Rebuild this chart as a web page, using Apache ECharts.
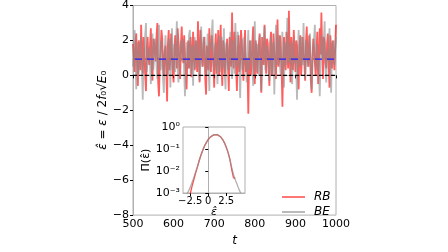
<!DOCTYPE html>
<html>
<head>
<meta charset="utf-8">
<script src="https://cdn.jsdelivr.net/npm/echarts@6/dist/echarts.min.js"></script>
<style>
  html, body { margin: 0; padding: 0; background: #fff; }
  #main { width: 448px; height: 252px; }
</style>
</head>
<body>
<div id="main"></div>
<script>
// time axis: t = 500 .. 1000, one sample every 2
const tStart = 500;
const tStep = 2;

// eps-hat time series
const rbVals = [
  1.8, 1.1, 0.2, 1.9, 2.4, 0.6, -0.6, 2.0, 1.5, 0.3, 2.9, 1.3, 0.1, 2.2, 1.2, 0.0, -0.9, 1.6, 2.2, 1.0,
  0.6, 1.8, 2.7, 0.4, -0.3, 2.1, 1.9, 1.2, 0.8, 2.3, 3.0, -0.4, -1.2, 0.8, 1.4, 2.6, 2.1, 0.5, 0.0, 1.4,
  1.7, 0.2, -1.5, 1.8, 2.6, 0.3, 0.9, 2.4, 1.3, 0.1, -0.4, 1.5, 2.3, 1.2, 0.4, 2.7, 1.9, 0.6, -0.2, 1.7,
  2.8, 1.3, 0.7, 2.3, 1.1, 0.2, -0.8, 1.1, 2.0, 0.4, 1.6, 2.2, -0.1, 1.0, 2.5, 0.9, 0.3, 2.0, 1.4, 0.2,
  3.1, 1.4, -0.4, 2.6, 1.8, 0.9, 0.5, 1.8, 2.2, -0.2, -1.1, 1.7, 1.0, 0.3, 2.7, 1.2, 0.2, 2.3, 1.5, 0.6,
  -0.7, 1.5, 2.4, 0.1, 1.2, 2.6, 0.0, 1.1, 2.9, 0.5, -0.6, 2.0, 1.7, 0.1, 0.8, 1.5, 2.1, 0.6, -0.9, 2.2,
  1.3, 0.5, 3.6, 1.2, 0.4, 2.5, 1.6, 0.3, -0.9, 1.4, 2.3, 0.2, 0.7, 2.6, 1.9, 0.7, -0.3, 1.5, 2.6, 0.2,
  1.0, 0.6, -2.2, 1.2, 2.0, 0.0, 0.5, 1.9, 2.8, 0.4, -0.5, 2.0, 1.6, 0.1, 0.9, 1.8, 2.4, 0.3, -1.0, 2.2,
  1.2, 0.6, 2.9, 1.3, 0.1, 2.1, 1.8, 0.4, -0.6, 1.9, 2.5, 0.0, 0.6, 2.4, 1.4, 0.8, -0.2, 1.7, 3.2, 0.5,
  0.8, 2.3, 1.5, 0.4, -1.8, 1.0, 2.2, 0.6, 0.3, 2.5, 1.9, 0.4, 3.7, 1.2, -0.4, 2.2, 1.1, 0.3, 2.6, 1.4,
  0.2, 2.0, 1.7, 0.3, -0.8, 1.6, 2.3, 0.0, 0.9, 2.2, 1.3, 0.8, -0.3, 1.9, 2.8, 0.9, 0.5, 2.3, 1.6, -0.3,
  -1.0, 0.9, 2.1, 1.6, 0.7, 0.0, 1.4, 2.5, -0.5, 0.7, 2.7, 1.2, 3.6, 1.4, -0.2, 2.2, 1.9, 0.7, 0.4, 1.8,
  2.4, 0.6, -0.7, 2.3, 1.5, 0.4, 2.0, 1.1, 0.3, 1.6, 2.9
];
const beVals = [
  0.5, 1.7, 2.6, 0.9, -0.8, 1.2, 1.9, 0.1, 0.7, 1.9, 2.2, 0.4, -1.4, 0.8, 1.3, 2.3, 3.0, 0.2, 0.1, 1.6,
  1.6, 0.6, -0.5, 1.5, 2.4, 0.3, 0.9, 2.1, 1.8, 0.5, -0.2, 1.9, 2.9, 0.8, 0.3, 2.0, 1.1, -0.2, -1.0, 1.3,
  2.3, 1.2, 0.6, 0.0, 1.7, 2.1, -0.7, 1.3, 2.7, 0.3, 1.0, 1.8, 0.2, 1.9, 3.1, 0.5, -0.4, 1.4, 1.5, 2.0,
  0.8, 1.5, 2.1, 0.2, -1.2, 1.0, 1.9, 1.2, 0.4, 2.3, 2.6, 0.1, 1.2, 1.7, -0.6, 1.4, 2.2, 0.4, 0.9, 2.0,
  1.4, 0.8, -0.3, 1.9, 2.8, 0.5, 0.6, 2.2, 1.7, 0.7, 0.0, 1.5, 2.4, 0.6, -0.9, 1.9, 1.5, 2.4, 3.2, 0.6,
  0.3, 1.6, 1.9, 0.7, -0.5, 1.4, 2.3, 0.2, 1.1, 2.2, 0.4, 1.5, 2.7, 0.0, -0.8, 1.9, 1.6, 0.3, 0.7, 1.7,
  2.5, 0.4, -0.2, 2.0, 1.3, 0.1, 3.0, 1.7, 0.5, 2.5, 1.8, 0.2, -1.3, 1.1, 2.1, 0.3, 0.8, 2.2, 1.4, 0.6,
  -0.4, 1.3, 2.6, 0.3, 0.9, 2.0, 1.7, 0.5, -0.6, 1.6, 3.1, 0.9, 0.2, 1.8, 1.5, 0.0, 2.3, 1.4, -0.9, 0.7,
  1.0, 2.1, 2.8, 0.3, 0.4, 1.7, 1.6, 0.8, -0.3, 1.5, 2.2, 0.1, 1.2, 1.9, -1.1, 0.7, 2.9, 1.5, 0.6, 2.3,
  1.8, 0.5, 0.0, 1.6, 2.5, 0.6, -0.7, 1.9, 1.3, 0.6, 3.3, 2.0, 0.7, 1.1, 1.9, 0.4, -0.5, 1.6, 2.1, 0.7,
  1.1, 0.4, -1.4, 1.3, 2.6, 0.9, 0.5, 2.2, 1.7, 0.6, 3.0, 1.2, -0.2, 2.0, 1.4, 0.5, 0.8, 1.7, 2.4, 0.3,
  -0.8, 0.9, 1.6, 2.1, 2.9, 0.6, 0.3, 1.8, 1.2, 0.4, -1.2, 1.0, 2.3, 1.4, 0.9, 2.0, 3.1, 0.5, -0.4, 1.2,
  1.5, 0.8, 2.7, 0.4, -1.0, 1.3, 1.8, 2.0, 0.6, 1.4, 2.2
];

// horizontal reference lines
const meanLevel = 0.93;
const zeroLevel = 0;

// inset: PDF of eps-hat
const pdfX = [-3.0, -2.75, -2.5, -2.25, -2.0, -1.75, -1.5, -1.25, -1.0, -0.75,
  -0.5, -0.25, 0, 0.25, 0.5, 0.75, 1.0, 1.25, 1.5, 1.75,
  2.0, 2.25, 2.5, 2.75, 3.0, 3.25, 3.5, 3.75, 4.0, 4.25, 4.5];
const pdfRB = [null, null, 0.0009, 0.002, 0.004, 0.008, 0.015, 0.03, 0.055, 0.09,
  0.14, 0.2, 0.27, 0.34, 0.4, 0.44, 0.46, 0.45, 0.41, 0.35,
  0.27, 0.19, 0.12, 0.07, 0.035, 0.012, 0.005, 0.0045, null, null, null];
const pdfBE = [0.0008, 0.0012, 0.0018, 0.003, 0.005, 0.009, 0.016, 0.03, 0.052, 0.088,
  0.14, 0.2, 0.27, 0.34, 0.4, 0.44, 0.46, 0.45, 0.41, 0.35,
  0.27, 0.19, 0.12, 0.07, 0.033, 0.015, 0.007, 0.004, 0.0025, 0.0015, 0.001];
const insetXTicks = [-2.5, 0, 2.5];

const toPairs = vals => vals.map((v, i) => [tStart + i * tStep, v]);
const pdfPairs = vals => pdfX.map((x, i) => [x, vals[i]]);
const tEnd = tStart + (rbVals.length - 1) * tStep;

const fmtMinus = v => String(v).replace('-', '\u2212');
const supMap = {'-': '\u207B', '0': '\u2070', '1': '\u00B9', '2': '\u00B2', '3': '\u00B3'};

const axisGray = '#b0b0b0';
const font = 'DejaVu Sans';

var myChart = echarts.init(document.getElementById('main'), null, {renderer: 'canvas'});
var option = {
    backgroundColor: '#fff',
    animation: false,
    textStyle: { fontFamily: font },
    legend: {
        data: ['RB', 'BE'],
        orient: 'vertical',
        left: 277,
        top: 186,
        icon: 'rect',
        itemWidth: 23,
        itemHeight: 2,
        itemGap: 3,
        itemStyle: { opacity: 0.6 },
        textStyle: { fontFamily: font, fontSize: 12, fontStyle: 'italic', color: '#000', padding: [0, 0, 0, 4] }
    },
    grid: [
        { left: 133, right: 112, top: 5, bottom: 25, show: true, borderColor: axisGray, borderWidth: 1 },
        { left: 183, top: 127, width: 62, height: 66, show: true, backgroundColor: '#fff', borderColor: axisGray, borderWidth: 1, z: 10 }
    ],
    xAxis: [
        {
            gridIndex: 0, type: 'value', min: 500, max: 1000, interval: 100,
            name: 't', nameLocation: 'middle', nameGap: 18,
            nameTextStyle: { fontFamily: font, fontSize: 12, fontStyle: 'italic', color: '#000' },
            axisLine: { lineStyle: { color: axisGray } },
            axisTick: { lineStyle: { color: '#000' }, length: 3 },
            axisLabel: { color: '#000', fontSize: 11, margin: 4, formatter: v => String(v) },
            splitLine: { show: false }
        },
        {
            gridIndex: 1, type: 'value', min: -3.5, max: 5.1, z: 11,
            name: 'ε̂', nameLocation: 'middle', nameGap: 14,
            nameTextStyle: { fontFamily: font, fontSize: 11, fontStyle: 'italic', color: '#000' },
            axisLine: { lineStyle: { color: axisGray } },
            axisTick: { customValues: insetXTicks, lineStyle: { color: '#000' }, length: 3 },
            axisLabel: { customValues: insetXTicks, color: '#000', fontSize: 10, margin: 3, formatter: fmtMinus },
            splitLine: { show: false }
        }
    ],
    yAxis: [
        {
            gridIndex: 0, type: 'value', min: -8, max: 4, interval: 2,
            name: '{i|ε̂} = {i|ε} / 2{i|f}₀√{i|E}₀', nameLocation: 'middle', nameGap: 18,
            nameTextStyle: { fontFamily: font, fontSize: 12, color: '#000',
                rich: { i: { fontFamily: font, fontSize: 12, fontStyle: 'italic', color: '#000' } } },
            axisLine: { show: true, lineStyle: { color: axisGray } },
            axisTick: { show: true, lineStyle: { color: '#000' }, length: 3 },
            axisLabel: { color: '#000', fontSize: 11, margin: 4, formatter: fmtMinus },
            splitLine: { show: false }
        },
        {
            gridIndex: 1, type: 'log', min: 0.001, max: 1, logBase: 10, z: 11,
            name: 'Π(ε̂)', nameLocation: 'middle', nameGap: 30,
            nameTextStyle: { fontFamily: font, fontSize: 11, color: '#000' },
            axisLine: { show: true, lineStyle: { color: axisGray } },
            axisTick: { show: true, lineStyle: { color: '#000' }, length: 3 },
            minorTick: { show: false },
            axisLabel: {
                color: '#000', fontSize: 11, margin: 3,
                formatter: function (v) {
                    const e = String(Math.round(Math.log10(v)));
                    return '10{s|' + e.split('').map(c => supMap[c]).join('') + '}';
                },
                rich: { s: { fontSize: 11, color: '#000' } }
            },
            splitLine: { show: false }
        }
    ],
    series: [
        {
            name: 'RB', type: 'line', xAxisIndex: 0, yAxisIndex: 0,
            data: toPairs(rbVals), symbol: 'none', color: '#ff1a1a',
            lineStyle: { width: 1.8, opacity: 0.7 }, z: 2
        },
        {
            name: 'BE', type: 'line', xAxisIndex: 0, yAxisIndex: 0,
            data: toPairs(beVals), symbol: 'none', color: '#8c8c8c',
            lineStyle: { width: 1.8, opacity: 0.6 }, z: 3
        },
        {
            name: 'zero', type: 'line', xAxisIndex: 0, yAxisIndex: 0,
            data: [[tStart, zeroLevel], [tEnd, zeroLevel]], symbol: 'none',
            lineStyle: { color: '#000', width: 1.2, type: [4, 2] }, z: 5, silent: true
        },
        {
            name: 'meanBE', type: 'line', xAxisIndex: 0, yAxisIndex: 0,
            data: [[tStart, meanLevel], [tEnd, meanLevel]], symbol: 'none',
            lineStyle: { color: '#1a1aff', width: 1.2, type: [9, 3] }, z: 5, silent: true
        },
        {
            name: 'meanRB', type: 'line', xAxisIndex: 0, yAxisIndex: 0,
            data: [[tStart, meanLevel], [tEnd, meanLevel]], symbol: 'none',
            lineStyle: { color: '#e08a2a', width: 1.2, type: [2, 10] }, z: 6, silent: true
        },
        {
            name: 'pdfRB', type: 'line', xAxisIndex: 1, yAxisIndex: 1,
            data: pdfPairs(pdfRB), symbol: 'none', connectNulls: false, color: '#ff2020',
            lineStyle: { width: 1.3, opacity: 0.8 }, z: 12,
            markLine: {
                silent: true, symbol: 'none', label: { show: false },
                lineStyle: { color: '#555', type: [3, 2], width: 1 },
                data: [{ xAxis: 0 }]
            }
        },
        {
            name: 'pdfBE', type: 'line', xAxisIndex: 1, yAxisIndex: 1,
            data: pdfPairs(pdfBE), symbol: 'none', color: '#909090',
            lineStyle: { width: 1.3, opacity: 0.7 }, z: 13
        }
    ]
};

myChart.setOption(option);
</script>
</body>
</html>
